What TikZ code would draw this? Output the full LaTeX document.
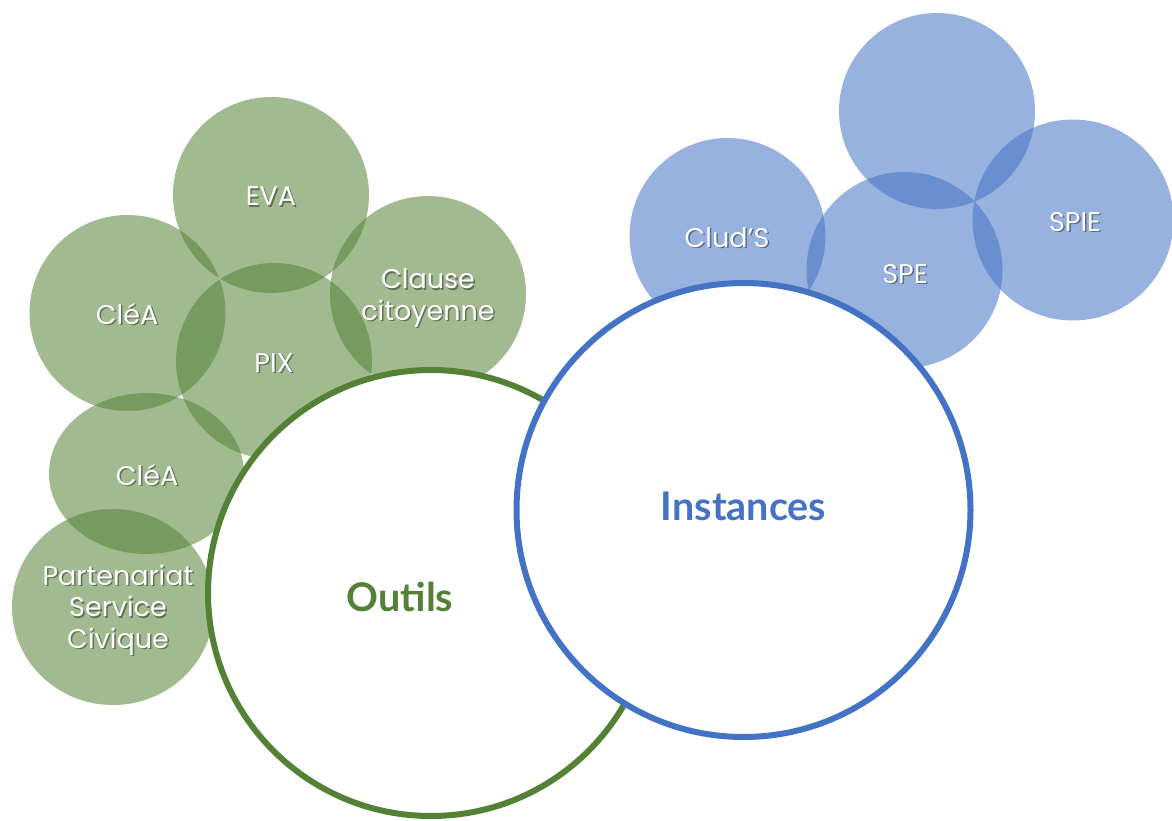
\documentclass[tikz,border=0pt]{standalone}
\usepackage{fontspec}
\setmainfont{Lato}
\newfontfamily\lblfont{Poppins}
\usetikzlibrary{shapes.geometric}
\definecolor{ogreen}{HTML}{538135}
\definecolor{iblue}{HTML}{4472C4}
\tikzset{
  gbub/.style={circle, fill=ogreen, fill opacity=0.55, draw=none, inner sep=0pt, minimum size=196pt},
  bbub/.style={circle, fill=iblue, fill opacity=0.55, draw=none, inner sep=0pt, minimum size=196pt},
  bigc/.style={circle, fill=white, line width=6pt, inner sep=0pt},
  lblf/.style={font=\lblfont\fontsize{27}{31.5}\selectfont, align=center, inner sep=0pt, anchor=base},
  lbl/.style={lblf, text=white},
  shd/.style={lblf, text=black, text opacity=0.4, xshift=1.5pt, yshift=-1.5pt},
  bigl/.style={font=\bfseries\fontsize{39.5}{44}\selectfont, inner sep=0pt, anchor=base},
}
\begin{document}
\begin{tikzpicture}[x=1pt,y=-1pt]
\useasboundingbox (0,0) rectangle (1172,821);
% green bubbles
\node[gbub] (eva) at (271,195) {};
\node[gbub] (cleaA) at (127.5,313) {};
\node[gbub] (clause) at (428,294) {};
\node[gbub] (pix) at (274,361) {};
\node[gbub, ellipse, minimum width=195pt, minimum height=161pt] (cleaB) at (146.5,473.5) {};
\node[gbub, ellipse, minimum width=202pt, minimum height=196pt] (psc) at (113,607) {};
% blue bubbles
\node[bbub] (top) at (937,111) {};
\node[bbub] (cluds) at (727.5,236) {};
\node[bbub] (spe) at (904.5,270) {};
\node[bbub, minimum size=201pt] (spie) at (1073,220) {};
% big circles
\node[bigc, draw=ogreen, minimum size=446pt] (outils) at (431,593) {};
\node[bigc, draw=iblue, minimum size=454pt] (instances) at (743.5,510) {};
% labels
\node[shd] (evaS) at (271,206) {EVA};
\node[lbl] (evaT) at (271,206) {EVA};
\node[shd] (cleaAS) at (127,324) {CléA};
\node[lbl] (cleaAT) at (127,324) {CléA};
\node[shd] (pixS) at (274,372) {PIX};
\node[lbl] (pixT) at (274,372) {PIX};
\node[shd] (clauseS) at (428,320) {Clause\\citoyenne};
\node[lbl] (clauseT) at (428,320) {Clause\\citoyenne};
\node[shd] (cleaBS) at (147,485) {CléA};
\node[lbl] (cleaBT) at (147,485) {CléA};
\node[shd] (pscS) at (118,648) {Partenariat\\Service\\Civique};
\node[lbl] (pscT) at (118,648) {Partenariat\\Service\\Civique};
\node[shd] (cludsS) at (727,247) {Clud’S};
\node[lbl] (cludsT) at (727,247) {Clud’S};
\node[shd] (speS) at (905,283) {SPE};
\node[lbl] (speT) at (905,283) {SPE};
\node[shd] (spieS) at (1075,231) {SPIE};
\node[lbl] (spieT) at (1075,231) {SPIE};
\node[bigl, text=ogreen] (outilsT) at (400,611) {Outils};
\node[bigl, text=iblue] (instancesT) at (743.5,520) {Instances};
\end{tikzpicture}
\end{document}
